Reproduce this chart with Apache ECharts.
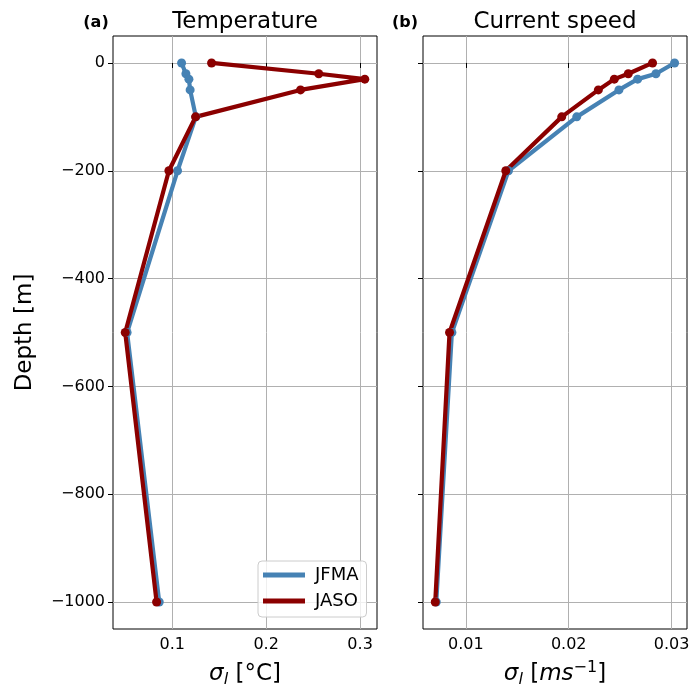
<!DOCTYPE html>
<html><head><meta charset="utf-8">
<script src="https://cdn.jsdelivr.net/npm/echarts@6/dist/echarts.min.js"></script>
<style>html,body{margin:0;padding:0;background:#fff}#c{width:694px;height:685px}</style>
</head><body><div id="c"></div>
<script>
const depths = [0, -20, -30, -50, -100, -200, -500, -1000];
const tempJFMA = [0.110, 0.1146, 0.1178, 0.1191, 0.1252, 0.1057, 0.0520, 0.0862];
const tempJASO = [0.1419, 0.256, 0.305, 0.2366, 0.1249, 0.0965, 0.0500, 0.0834];
const speedJFMA = [0.03029, 0.02848, 0.0267, 0.02488, 0.02078, 0.01414, 0.00864, 0.00712];
const speedJASO = [0.02815, 0.02579, 0.02443, 0.02288, 0.01932, 0.01388, 0.00841, 0.00702];
const depthTicks = [-1000, -800, -600, -400, -200, 0];
const tempTicks = [0.1, 0.2, 0.3];
const speedTicks = [0.01, 0.02, 0.03];
const seriesNames = ['JFMA', 'JASO'];
const colors = ['#4682B4', '#8B0000'];

const pair = (xs) => xs.map((v, i) => [v, depths[i]]);
const FONT = 'DejaVu Sans';
const minus = (v) => String(v).replace('-', '\u2212');

const chart = echarts.init(document.getElementById('c'), null, {renderer: 'canvas'});
const axisCommon = {
  type: 'value',
  axisLine: {show: false},
  axisTick: {show: true, inside: false, length: 5, lineStyle: {color: '#000', width: 1}},
  splitLine: {show: true, lineStyle: {color: '#b0b0b0', width: 1}},
  axisLabel: {color: '#000', fontFamily: FONT, fontSize: 16}
};
function xAxis(gi, min, max, ticks, nameRich) {
  return Object.assign({}, axisCommon, {
    gridIndex: gi, min: min, max: max,
    axisTick: Object.assign({}, axisCommon.axisTick, {customValues: ticks}),
    axisLabel: Object.assign({}, axisCommon.axisLabel, {customValues: ticks, margin: 8}),
    name: nameRich.text, nameLocation: 'middle', nameGap: 31,
    nameTextStyle: {color: '#000', fontFamily: FONT, fontSize: 23, rich: nameRich.rich}
  });
}
function yAxis(gi, showLabels) {
  return Object.assign({}, axisCommon, {
    gridIndex: gi, min: -1050, max: 50,
    axisTick: Object.assign({}, axisCommon.axisTick, {customValues: depthTicks}),
    axisLabel: Object.assign({}, axisCommon.axisLabel, {show: showLabels, customValues: depthTicks, margin: 8, formatter: minus}),
    name: showLabels ? 'Depth [m]' : '', nameLocation: 'middle', nameGap: 76,
    nameTextStyle: {color: '#000', fontFamily: FONT, fontSize: 23}
  });
}
const richBase = {
  s: {fontFamily: FONT, fontSize: 23, fontStyle: 'italic', color: '#000'},
  sub: {fontFamily: FONT, fontSize: 16, fontStyle: 'italic', color: '#000', padding: [12, 0, 0, 0]},
  n: {fontFamily: FONT, fontSize: 23, color: '#000'},
  i: {fontFamily: FONT, fontSize: 23, fontStyle: 'italic', color: '#000'},
  sup: {fontFamily: FONT, fontSize: 16, color: '#000', padding: [0, 0, 12, 0]}
};
const tempName = {text: '{s|σ}{sub|l} {n|[°C]}', rich: richBase};
const speedName = {text: '{s|σ}{sub|l} {n|[}{i|ms}{sup|\u22121}{n|]}', rich: richBase};

function mkSeries(name, color, data, xi) {
  return {
    name: name, type: 'line', xAxisIndex: xi, yAxisIndex: xi, data: data,
    symbol: 'circle', symbolSize: 9, showSymbol: true,
    itemStyle: {color: color}, lineStyle: {color: color, width: 4.2},
    emphasis: {disabled: true}, animation: false, z: 3
  };
}

chart.setOption({
  animation: false,
  backgroundColor: '#fff',
  title: [
    {text: 'Temperature', left: 240, textAlign: 'center', top: 6, textStyle: {fontFamily: FONT, fontSize: 23, fontWeight: 'normal', color: '#000'}},
    {text: 'Current speed', left: 550, textAlign: 'center', top: 6, textStyle: {fontFamily: FONT, fontSize: 23, fontWeight: 'normal', color: '#000'}},
    {text: '(a)', left: 91, textAlign: 'center', top: 10, textStyle: {fontFamily: FONT, fontSize: 16, fontWeight: 'bold', color: '#000'}},
    {text: '(b)', left: 400, textAlign: 'center', top: 10, textStyle: {fontFamily: FONT, fontSize: 16, fontWeight: 'bold', color: '#000'}}
  ],
  grid: [
    {left: 113, right: 317, top: 36, bottom: 56, outerBoundsMode: 'none', containLabel: false, show: true, borderColor: '#000', borderWidth: 1, backgroundColor: 'transparent'},
    {left: 423, right: 7, top: 36, bottom: 56, outerBoundsMode: 'none', containLabel: false, show: true, borderColor: '#000', borderWidth: 1, backgroundColor: 'transparent'}
  ],
  xAxis: [
    xAxis(0, 0.037, 0.318, tempTicks, tempName),
    xAxis(1, 0.00583, 0.0315, speedTicks, speedName)
  ],
  yAxis: [yAxis(0, true), yAxis(1, false)],
  legend: {
    data: seriesNames, orient: 'vertical', left: 258, top: 561,
    padding: [5, 8, 7, 5], itemGap: 8, itemWidth: 42, itemHeight: 5, icon: 'rect',
    backgroundColor: 'rgba(255,255,255,0.8)', borderColor: '#cccccc', borderWidth: 1, borderRadius: 4,
    textStyle: {fontFamily: FONT, fontSize: 18, color: '#000', padding: [0, 0, 0, 5]}
  },
  series: [
    mkSeries(seriesNames[0], colors[0], pair(tempJFMA), 0),
    mkSeries(seriesNames[1], colors[1], pair(tempJASO), 0),
    mkSeries(seriesNames[0], colors[0], pair(speedJFMA), 1),
    mkSeries(seriesNames[1], colors[1], pair(speedJASO), 1)
  ]
});
</script></body></html>
